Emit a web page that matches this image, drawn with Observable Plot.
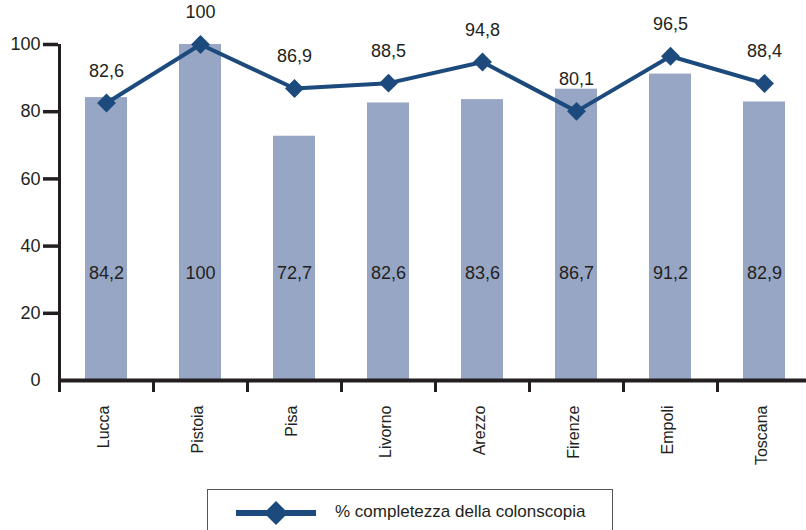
<!DOCTYPE html>
<html><head><meta charset="utf-8">
<script src="https://cdn.jsdelivr.net/npm/d3@7"></script>
<script src="https://cdn.jsdelivr.net/npm/@observablehq/plot@0.6"></script>
<style>
body{margin:0;background:#fff;font-family:"Liberation Sans",Arial,sans-serif;color:#231f20;}
#legend{position:relative;margin-left:207px;margin-top:9px;width:406px;height:50px;border:1.5px solid #555;box-sizing:border-box;}
#legend svg{position:absolute;left:26px;top:10px;}
#legend span{position:absolute;left:127px;top:12px;font-size:17px;white-space:nowrap;}
</style></head><body><div id="chart"></div>
<script>
const categories = ["Lucca","Pistoia","Pisa","Livorno","Arezzo","Firenze","Empoli","Toscana"];
const barValues = [84.2,100,72.7,82.6,83.6,86.7,91.2,82.9];
const lineValues = [82.6,100,86.9,88.5,94.8,80.1,96.5,88.4];
const yTicks = [0,20,40,60,80,100];
const seriesName = "% completezza della colonscopia";

const data = categories.map((c,i)=>({cat:c, bar:barValues[i], line:lineValues[i]}));
const fmt = v => String(v).replace(".", ",");
const barColor = "#97a6c4", lineColor = "#1c4a7c", ink = "#231f20";
const font = '"Liberation Sans", Arial, sans-serif';

const plot = Plot.plot({
  width: 806, height: 480,
  marginTop: 44, marginBottom: 100, marginLeft: 58, marginRight: 0,
  style: {fontFamily: font, fontSize: "16px", color: ink, background: "#fff", overflow: "visible"},
  x: {domain: categories, range: [58, 812], paddingInner: 0.555, paddingOuter: 0.2775, label: null},
  y: {domain: [0, 100], label: null},
  marks: [
    Plot.barY(data, {x: "cat", y: "bar", fill: barColor}),
    Plot.text(data, {x: "cat", text: d => fmt(d.bar), frameAnchor: "bottom", dy: -102, fontSize: 18, fill: ink}),
    Plot.ruleY([0], {stroke: ink, strokeWidth: 4}),
    Plot.ruleX(categories.slice(0, 1), {x: d => d, dx: -47, stroke: ink, strokeWidth: 3}),
    Plot.axisY(yTicks, {tickSize: 0, tickPadding: 18, fontSize: 18, fill: ink, label: null}),
    Plot.axisY(yTicks.slice(1), {tickSize: 15, tickFormat: () => "", stroke: ink, strokeWidth: 3.5, label: null}),
    Plot.axisX({tickSize: 12, dx: -47, tickFormat: () => "", stroke: ink, strokeWidth: 3, label: null}),
    Plot.axisX({tickSize: 0, tickRotate: -90, tickPadding: 25, dx: -3, fontSize: 16, fill: ink, label: null}),
    Plot.line(data, {x: "cat", y: "line", stroke: lineColor, strokeWidth: 4}),
    Plot.dot(data, {x: "cat", y: "line", symbol: "diamond2", r: 8.5, fill: lineColor}),
    Plot.text(data, {x: "cat", y: "line", text: d => fmt(d.line), dy: -32, fontSize: 18, fill: ink})
  ]
});
document.getElementById("chart").append(plot);

const legend = document.createElement("div");
legend.id = "legend";
legend.innerHTML = `<svg width="84" height="28"><line x1="2" y1="13" x2="82" y2="13" stroke="${lineColor}" stroke-width="6"/><polygon points="42,1 54,13 42,25 30,13" fill="${lineColor}"/></svg><span></span>`;
legend.querySelector("span").textContent = seriesName;
document.body.append(legend);
</script></body></html>
